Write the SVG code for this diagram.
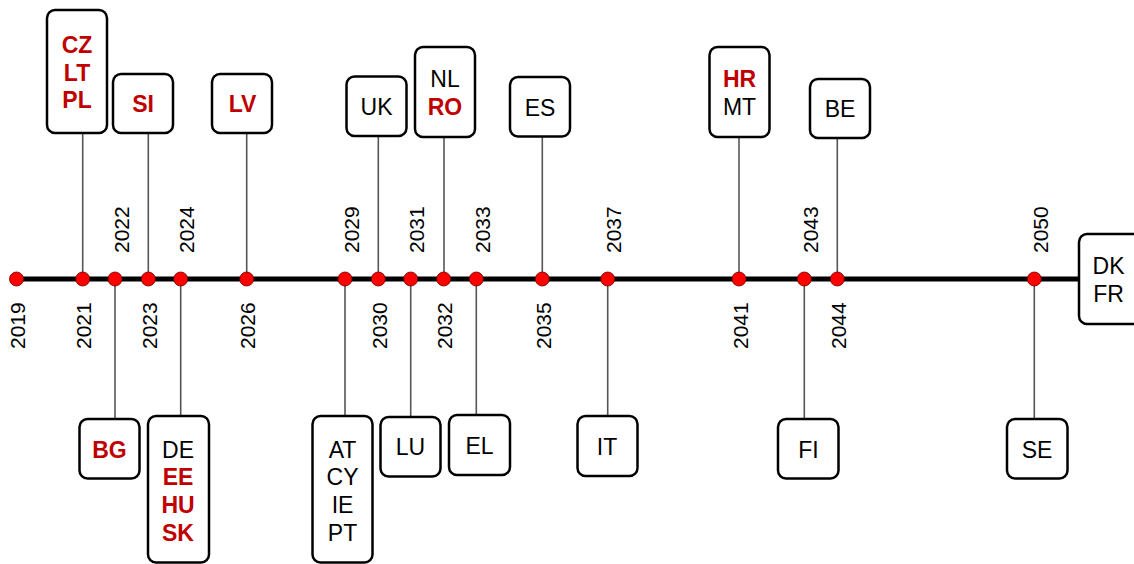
<svg xmlns="http://www.w3.org/2000/svg" width="1134" height="564" viewBox="0 0 1134 564">
<style>
.box{fill:#fff;stroke:#000;stroke-width:2.5}
.t{font-family:"Liberation Sans",Arial,sans-serif;font-size:23px;text-anchor:middle;fill:#000}
.r{fill:#c00000;font-weight:bold}
.yr{font-family:"Liberation Sans",Arial,sans-serif;font-size:21px;fill:#000}
.c{stroke:#555;stroke-width:1.6;fill:none}
.dot{fill:#ff0000;stroke:#600;stroke-width:0.8}
</style>
<rect width="1134" height="564" fill="#fff"/>
<g id="connectors">
<line class="c" x1="82.7" y1="134" x2="82.7" y2="279"/>
<line class="c" x1="148.3" y1="134" x2="148.3" y2="279"/>
<line class="c" x1="246.7" y1="134" x2="246.7" y2="279"/>
<line class="c" x1="378.3" y1="137" x2="378.3" y2="279"/>
<line class="c" x1="444" y1="138" x2="444" y2="279"/>
<line class="c" x1="542.3" y1="137" x2="542.3" y2="279"/>
<line class="c" x1="739" y1="138" x2="739" y2="279"/>
<line class="c" x1="837.3" y1="138" x2="837.3" y2="279"/>
<line class="c" x1="115" y1="279" x2="115" y2="419"/>
<line class="c" x1="180.7" y1="279" x2="180.7" y2="416"/>
<line class="c" x1="345" y1="279" x2="345" y2="416"/>
<line class="c" x1="410.7" y1="279" x2="410.7" y2="417"/>
<line class="c" x1="476.3" y1="279" x2="476.3" y2="415"/>
<line class="c" x1="607.7" y1="279" x2="607.7" y2="416"/>
<line class="c" x1="804.3" y1="279" x2="804.3" y2="419"/>
<line class="c" x1="1034.3" y1="279" x2="1034.3" y2="419"/>
<line x1="16.5" y1="279" x2="1080" y2="279" stroke="#000" stroke-width="5"/>
</g>
<g id="dots">
<circle class="dot" cx="16.5" cy="279" r="7"/>
<circle class="dot" cx="82.7" cy="279" r="7"/>
<circle class="dot" cx="115" cy="279" r="7"/>
<circle class="dot" cx="148.3" cy="279" r="7"/>
<circle class="dot" cx="180.7" cy="279" r="7"/>
<circle class="dot" cx="246.7" cy="279" r="7"/>
<circle class="dot" cx="345" cy="279" r="7"/>
<circle class="dot" cx="378.3" cy="279" r="7"/>
<circle class="dot" cx="410.7" cy="279" r="7"/>
<circle class="dot" cx="443.7" cy="279" r="7"/>
<circle class="dot" cx="476.3" cy="279" r="7"/>
<circle class="dot" cx="542.3" cy="279" r="7"/>
<circle class="dot" cx="607.7" cy="279" r="7"/>
<circle class="dot" cx="739" cy="279" r="7"/>
<circle class="dot" cx="804.3" cy="279" r="7"/>
<circle class="dot" cx="837.3" cy="279" r="7"/>
<circle class="dot" cx="1034.3" cy="279" r="7"/>
</g>
<g id="years">
<text class="yr" transform="translate(25,349) rotate(-90)">2019</text>
<text class="yr" transform="translate(91,349) rotate(-90)">2021</text>
<text class="yr" transform="translate(128.5,253) rotate(-90)">2022</text>
<text class="yr" transform="translate(156.5,349) rotate(-90)">2023</text>
<text class="yr" transform="translate(194,253) rotate(-90)">2024</text>
<text class="yr" transform="translate(255,349) rotate(-90)">2026</text>
<text class="yr" transform="translate(358.5,253) rotate(-90)">2029</text>
<text class="yr" transform="translate(386.5,349) rotate(-90)">2030</text>
<text class="yr" transform="translate(424,253) rotate(-90)">2031</text>
<text class="yr" transform="translate(452,349) rotate(-90)">2032</text>
<text class="yr" transform="translate(489.5,253) rotate(-90)">2033</text>
<text class="yr" transform="translate(550.5,349) rotate(-90)">2035</text>
<text class="yr" transform="translate(621,253) rotate(-90)">2037</text>
<text class="yr" transform="translate(747.5,349) rotate(-90)">2041</text>
<text class="yr" transform="translate(817.5,253) rotate(-90)">2043</text>
<text class="yr" transform="translate(845.5,349) rotate(-90)">2044</text>
<text class="yr" transform="translate(1047.5,253) rotate(-90)">2050</text>
</g>
<g id="n-cz-lt-pl"><rect class="box" x="47" y="10" width="60" height="123" rx="8"/>
<text class="t r" x="77" y="53">CZ</text><text class="t r" x="77" y="81">LT</text><text class="t r" x="77" y="108">PL</text></g>
<g id="n-si"><rect class="box" x="113" y="74" width="60" height="59" rx="8"/>
<text class="t r" x="143" y="112">SI</text></g>
<g id="n-lv"><rect class="box" x="212" y="74" width="60" height="59" rx="8"/>
<text class="t r" x="242.5" y="112">LV</text></g>
<g id="n-uk"><rect class="box" x="346.5" y="76.5" width="60" height="59.5" rx="8"/>
<text class="t" x="376.5" y="115">UK</text></g>
<g id="n-nl-ro"><rect class="box" x="415" y="47" width="60" height="90" rx="8"/>
<text class="t" x="445" y="87">NL</text><text class="t r" x="445" y="115">RO</text></g>
<g id="n-es"><rect class="box" x="510" y="77" width="60" height="59.5" rx="8"/>
<text class="t" x="540" y="116">ES</text></g>
<g id="n-hr-mt"><rect class="box" x="709.5" y="47" width="60" height="90" rx="8"/>
<text class="t r" x="739.5" y="87">HR</text><text class="t" x="739.5" y="115">MT</text></g>
<g id="n-be"><rect class="box" x="810" y="79" width="60" height="59" rx="8"/>
<text class="t" x="840" y="116.5">BE</text></g>
<g id="n-dk-fr"><rect class="box" x="1079" y="234" width="62" height="90" rx="8"/>
<text class="t" x="1108.5" y="274">DK</text><text class="t" x="1108.5" y="302">FR</text></g>
<g id="n-bg"><rect class="box" x="79.5" y="419" width="60" height="59.5" rx="8"/>
<text class="t r" x="109.5" y="457.5">BG</text></g>
<g id="n-de-ee-hu-sk"><rect class="box" x="148" y="416" width="61" height="146.5" rx="8"/>
<text class="t" x="178" y="457.5">DE</text><text class="t r" x="178" y="485">EE</text><text class="t r" x="178" y="513">HU</text><text class="t r" x="178" y="541">SK</text></g>
<g id="n-at-cy-ie-pt"><rect class="box" x="312.5" y="416" width="60" height="146.5" rx="8"/>
<text class="t" x="342.5" y="457.5">AT</text><text class="t" x="342.5" y="485">CY</text><text class="t" x="342.5" y="513">IE</text><text class="t" x="342.5" y="541">PT</text></g>
<g id="n-lu"><rect class="box" x="380.5" y="417" width="60" height="59.5" rx="8"/>
<text class="t" x="410.5" y="455">LU</text></g>
<g id="n-el"><rect class="box" x="449" y="415" width="61" height="60" rx="8"/>
<text class="t" x="479.5" y="454">EL</text></g>
<g id="n-it"><rect class="box" x="577.5" y="416" width="60" height="60" rx="8"/>
<text class="t" x="607" y="455">IT</text></g>
<g id="n-fi"><rect class="box" x="778" y="419" width="60.5" height="59.5" rx="8"/>
<text class="t" x="808.5" y="457.5">FI</text></g>
<g id="n-se"><rect class="box" x="1007" y="419" width="60.5" height="59.5" rx="8"/>
<text class="t" x="1037" y="457.5">SE</text></g>
</svg>
